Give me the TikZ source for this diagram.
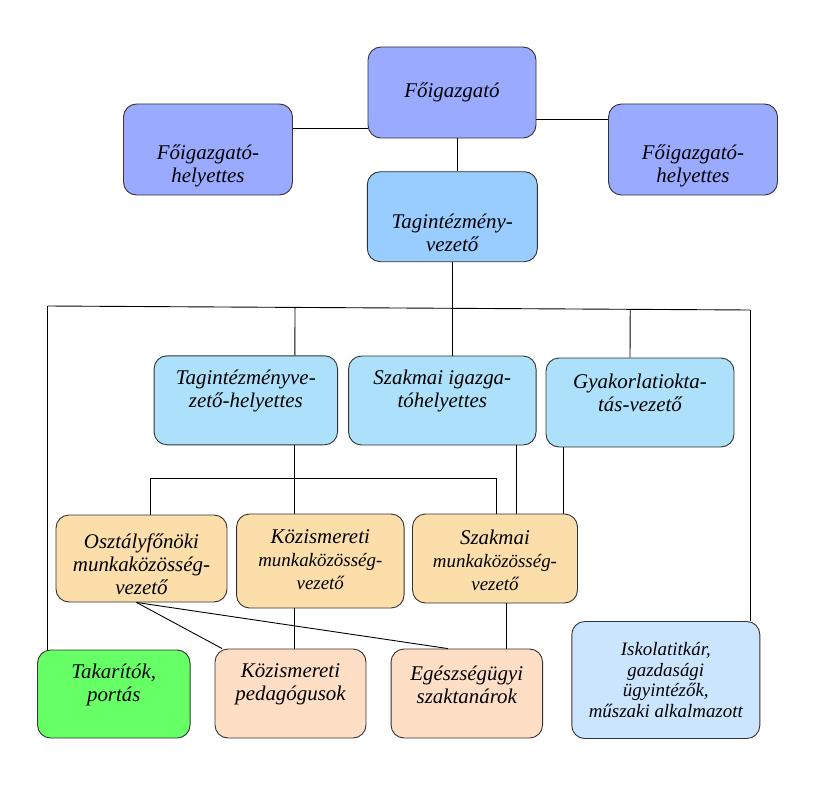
\documentclass[tikz,border=0pt]{standalone}
\usepackage{fontspec}
\setmainfont{Liberation Serif}
\usepackage{xcolor}
\usetikzlibrary{calc}

\definecolor{fokek}{RGB}{153,170,255}
\definecolor{tagkek}{RGB}{153,204,255}
\definecolor{helykek}{RGB}{173,224,250}
\definecolor{munkasarga}{RGB}{252,222,170}
\definecolor{pedbarack}{RGB}{255,222,198}
\definecolor{takzold}{RGB}{102,255,102}
\definecolor{iskkek}{RGB}{204,229,255}

\newcommand{\kisbetu}{\fontsize{19}{21}\selectfont}

\tikzset{
  doboz/.style={draw=black!80, line width=0.9bp, rounded corners=13bp, inner sep=0pt},
  szoveg/.style={align=center, font=\fontsize{21}{23}\selectfont\itshape},
  kisszoveg/.style={align=center, font=\fontsize{19}{20.5}\selectfont\itshape},
  vonal/.style={black, line width=0.9bp},
}

\begin{document}
\begin{tikzpicture}[x=1bp, y=-1bp]
            \useasboundingbox (0,0) rectangle (821,789);
            % dobozok
            \node[doboz, fill=fokek, minimum width=168bp, minimum height=91bp] (fo) at (452,92.5) {};
            \node[doboz, fill=fokek, minimum width=169bp, minimum height=91bp] (fhl) at (208,149.5) {};
            \node[doboz, fill=fokek, minimum width=169bp, minimum height=91bp] (fhr) at (693,149.5) {};
            \node[doboz, fill=tagkek, minimum width=170bp, minimum height=90bp] (tv) at (452.3,216.7) {};
            \node[doboz, fill=helykek, minimum width=183.5bp, minimum height=89bp] (tvh) at (245.8,400.3) {};
            \node[doboz, fill=helykek, minimum width=187.5bp, minimum height=89bp] (szi) at (442.3,400.5) {};
            \node[doboz, fill=helykek, minimum width=188bp, minimum height=89bp] (gyv) at (640,402.5) {};
            \node[doboz, fill=munkasarga, minimum width=171bp, minimum height=87bp] (ofm) at (141.5,558.5) {};
            \node[doboz, fill=munkasarga, minimum width=167.5bp, minimum height=94bp] (kmv) at (320.3,561) {};
            \node[doboz, fill=munkasarga, minimum width=165bp, minimum height=89bp] (szmv) at (495,558.5) {};
            \node[doboz, fill=takzold, minimum width=152.5bp, minimum height=88bp] (tak) at (113.8,694) {};
            \node[doboz, fill=pedbarack, minimum width=151bp, minimum height=89bp] (kped) at (290.5,693.5) {};
            \node[doboz, fill=pedbarack, minimum width=151.5bp, minimum height=89bp] (eu) at (466.8,693.5) {};
            \node[doboz, fill=iskkek, minimum width=188bp, minimum height=117bp] (isk) at (665.8,680) {};
            % feliratok
            \node[szoveg] (fo-t) at (fo.center) {Főigazgató};
            \node[szoveg, yshift=-16bp] (fhl-t) at (fhl.center) {Főigazgató-\\helyettes};
            \node[szoveg, yshift=-16bp] (fhr-t) at (fhr.center) {Főigazgató-\\helyettes};
            \node[szoveg, yshift=-16bp] (tv-t) at (tv.center) {Tagintézmény-\\vezető};
            \node[szoveg, yshift=9.5bp] (tvh-t) at (tvh.center) {Tagintézményve-\\zető-helyettes};
            \node[szoveg, yshift=9.5bp] (szi-t) at (szi.center) {Szakmai igazga-\\tóhelyettes};
            \node[szoveg, yshift=9.5bp] (gyv-t) at (gyv.center) {Gyakorlatiokta-\\tás-vezető};
            \node[szoveg, yshift=-6bp] (ofm-t) at (ofm.center) {Osztályfőnöki\\munkaközösség-\\vezető};
            \node[szoveg, yshift=1bp] (kmv-t) at (kmv.center) {Közismereti\\\kisbetu munkaközösség-\\\kisbetu vezető};
            \node[szoveg, yshift=-2bp] (szmv-t) at (szmv.center) {Szakmai\\\kisbetu munkaközösség-\\\kisbetu vezető};
            \node[szoveg, yshift=9bp] (tak-t) at (tak.center) {Takarítók,\\portás};
            \node[szoveg, yshift=9bp] (kped-t) at (kped.center) {Közismereti\\pedagógusok};
            \node[szoveg, yshift=9bp] (eu-t) at (eu.center) {Egészségügyi\\szaktanárok};
            \node[kisszoveg] (isk-t) at (isk.center) {Iskolatitkár,\\gazdasági\\ügyintézők,\\műszaki alkalmazott};
            % vonalak felul
            \coordinate (foL) at ([yshift=-35.5bp]fo.west);
            \coordinate (foR) at ([yshift=-26.5bp]fo.east);
            \coordinate (foD) at ([xshift=5.5bp]fo.south);
            \draw[vonal] (foL) -- (foL -| fhl.east);
            \draw[vonal] (foR) -- (foR -| fhr.west);
            \draw[vonal] (foD) -- (foD |- tv.north);
            \draw[vonal] (tv.south) -- (tv.south |- szi.north);
            % gyujtovonal
            \coordinate (busL) at (47.5,306);
            \coordinate (busR) at (750,310);
            \coordinate (tvhF) at ([xshift=49bp]tvh.north);
            \coordinate (gyvF) at ([xshift=-10bp]gyv.north);
            \draw[vonal] (busL) -- (busR);
            \draw[vonal] (busL) -- (busL |- tak.north);
            \draw[vonal] (busR) -- (busR |- isk.north);
            \draw[vonal] (tvhF) -- ($(busL)!(tvhF)!(busR)$);
            \draw[vonal] (gyvF) -- ($(busL)!(gyvF)!(busR)$);
            % kozepso sor
            \coordinate (barL) at (150,478);
            \coordinate (barR) at (496,478);
            \coordinate (tvhA) at ([xshift=49bp]tvh.south);
            \coordinate (sziA) at ([xshift=-20bp]szi.south east);
            \coordinate (gyvA) at ([xshift=18bp]gyv.south west);
            \draw[vonal] (barL) -- (barR);
            \draw[vonal] (barL) -- (barL |- ofm.north);
            \draw[vonal] (barR) -- (barR |- szmv.north);
            \draw[vonal] (tvhA) -- (tvhA |- kmv.north);
            \draw[vonal] (sziA) -- (sziA |- szmv.north);
            \draw[vonal] (gyvA) -- (gyvA |- szmv.north);
            % also sor
            \coordinate (ofmA) at ([xshift=-5bp]ofm.south);
            \coordinate (szmvA) at ([xshift=11bp]szmv.south);
            \draw[vonal] (ofmA) -- ([xshift=7.5bp]kped.north west);
            \draw[vonal] (ofmA) -- ([xshift=-19bp]eu.north);
            \draw[vonal] (tvhA |- kmv.south) -- (tvhA |- kped.north);
            \draw[vonal] (szmvA) -- (szmvA |- eu.north);
        \end{tikzpicture}
\end{document}
